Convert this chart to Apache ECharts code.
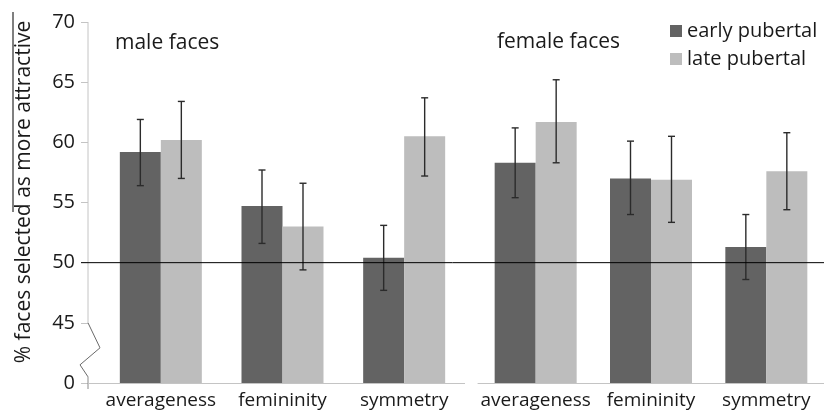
<!DOCTYPE html>
<html>
<head>
<meta charset="utf-8">
<script src="https://cdn.jsdelivr.net/npm/echarts@6/dist/echarts.min.js"></script>
<style>html,body{margin:0;padding:0;background:#fff}#c{width:824px;height:414px}</style>
</head>
<body>
<div id="c"></div>
<script>
// ---- data ----
const categories = ['averageness', 'femininity', 'symmetry'];
const yTicks = [40, 45, 50, 55, 60, 65, 70];          // 40 is shown as "0" (broken axis)
const maleEarly = [59.2, 54.7, 50.4];
const maleLate = [60.2, 53.0, 60.5];
const femaleEarly = [58.3, 57.0, 51.3];
const femaleLate = [61.7, 56.9, 57.6];
const maleEarlyLow = [56.4, 51.6, 47.7];
const maleEarlyHigh = [61.9, 57.7, 53.1];
const maleLateLow = [57.0, 49.4, 57.2];
const maleLateHigh = [63.4, 56.6, 63.7];
const femaleEarlyLow = [55.4, 54.0, 48.6];
const femaleEarlyHigh = [61.2, 60.1, 54.0];
const femaleLateLow = [58.3, 53.35, 54.4];
const femaleLateHigh = [65.2, 60.5, 60.8];
const seriesNames = ['early pubertal', 'late pubertal'];
const panelTitles = ['male faces', 'female faces'];
const yAxisTitle = '% faces selected as more attractive';

// ---- style / layout ----
const FONT = '"Open Sans", "Noto Sans", sans-serif';
const DARK = '#636363', LIGHT = '#bdbdbd', TXT = '#1a1a1a', AXIS = '#c4c4c4';
const BAR_W = 41;
const G0_LEFT = 100, G0_W = 365, G1_LEFT = 478, G1_W = 362;
const Y_OFFSET = 12;
const GRID_TOP = 22, GRID_H = 361;

const chart = echarts.init(document.getElementById('c'), null, {renderer: 'canvas'});

function errData(lo, hi) { return lo.map((v, i) => [i, v, hi[i]]); }
function errRender(sign) {
  return function (params, api) {
    const lo = api.coord([api.value(0), api.value(1)]);
    const hi = api.coord([api.value(0), api.value(2)]);
    const cx = lo[0] + sign * BAR_W / 2;
    const cap = 3.5;
    const st = {stroke: '#2b2b2b', lineWidth: 1.4};
    return {
      type: 'group',
      children: [
        {type: 'line', shape: {x1: cx, y1: lo[1], x2: cx, y2: hi[1]}, style: st},
        {type: 'line', shape: {x1: cx - cap, y1: lo[1], x2: cx + cap, y2: lo[1]}, style: st},
        {type: 'line', shape: {x1: cx - cap, y1: hi[1], x2: cx + cap, y2: hi[1]}, style: st}
      ]
    };
  };
}

function xAxisCfg(gi, showLine) {
  return {
    type: 'category', gridIndex: gi, data: categories,
    axisLine: {show: showLine, lineStyle: {color: AXIS, width: 1}},
    axisTick: {show: false},
    axisLabel: {interval: 0, color: TXT, fontSize: 19, fontFamily: FONT, margin: 8}
  };
}
function yAxisCfg(gi, show) {
  return {
    type: 'value', gridIndex: gi, min: yTicks[0], max: yTicks[yTicks.length - 1], interval: 5,
    offset: Y_OFFSET,
    splitLine: {show: false},
    axisLine: {show: false},
    axisTick: {show: show, length: 7, lineStyle: {color: AXIS}},
    axisLabel: {show: show, color: TXT, fontSize: 20, fontFamily: FONT, margin: 13,
      formatter: v => (v === yTicks[0] ? '0' : String(v))}
  };
}

const option = {
  animation: false,
  backgroundColor: '#fff',
  grid: [
    {left: G0_LEFT, top: GRID_TOP, width: G0_W, height: GRID_H},
    {left: G1_LEFT, top: GRID_TOP, width: G1_W, height: GRID_H}
  ],
  xAxis: [xAxisCfg(0, false), xAxisCfg(1, true)],
  yAxis: [yAxisCfg(0, true), yAxisCfg(1, false)],
  legend: {
    orient: 'vertical', left: 670, top: 21, padding: 0, itemGap: 8,
    itemWidth: 12, itemHeight: 12, icon: 'rect',
    data: seriesNames,
    textStyle: {color: TXT, fontSize: 20, fontFamily: FONT, lineHeight: 20}
  },
  series: [
    {name: seriesNames[0], type: 'bar', xAxisIndex: 0, yAxisIndex: 0, data: maleEarly, barWidth: BAR_W, barGap: '0%', itemStyle: {color: DARK}},
    {name: seriesNames[1], type: 'bar', xAxisIndex: 0, yAxisIndex: 0, data: maleLate, barWidth: BAR_W, barGap: '0%', itemStyle: {color: LIGHT}},
    {name: seriesNames[0], type: 'bar', xAxisIndex: 1, yAxisIndex: 1, data: femaleEarly, barWidth: BAR_W, barGap: '0%', itemStyle: {color: DARK}},
    {name: seriesNames[1], type: 'bar', xAxisIndex: 1, yAxisIndex: 1, data: femaleLate, barWidth: BAR_W, barGap: '0%', itemStyle: {color: LIGHT}},
    {name: 'err0', type: 'custom', xAxisIndex: 0, yAxisIndex: 0, renderItem: errRender(-1), data: errData(maleEarlyLow, maleEarlyHigh), encode: {x: 0, y: [1, 2]}, z: 5},
    {name: 'err1', type: 'custom', xAxisIndex: 0, yAxisIndex: 0, renderItem: errRender(1), data: errData(maleLateLow, maleLateHigh), encode: {x: 0, y: [1, 2]}, z: 5},
    {name: 'err2', type: 'custom', xAxisIndex: 1, yAxisIndex: 1, renderItem: errRender(-1), data: errData(femaleEarlyLow, femaleEarlyHigh), encode: {x: 0, y: [1, 2]}, z: 5},
    {name: 'err3', type: 'custom', xAxisIndex: 1, yAxisIndex: 1, renderItem: errRender(1), data: errData(femaleLateLow, femaleLateHigh), encode: {x: 0, y: [1, 2]}, z: 5}
  ]
};
chart.setOption(option);

// ---- decorations derived from the axis scale ----
const yPx = v => chart.convertToPixel({yAxisIndex: 0}, v);
const axisX = G0_LEFT - Y_OFFSET;
const yTop = yPx(yTicks[yTicks.length - 1]);
const y45 = yPx(yTicks[1]);
const y0 = yPx(yTicks[0]);
const y50 = yPx(50);
chart.setOption({
  graphic: [
    {type: 'line', z: 10, shape: {x1: axisX, y1: yTop, x2: axisX, y2: y45}, style: {stroke: AXIS, lineWidth: 1}},
    {type: 'polyline', z: 10, shape: {points: [[axisX, y45], [axisX + 12, y45 + 25], [axisX - 8, y45 + 42], [axisX, y45 + 54]]}, style: {stroke: '#6a6a6a', lineWidth: 1, fill: null}},
    {type: 'line', z: 10, shape: {x1: axisX, y1: y45 + 54, x2: axisX, y2: y0 + 6}, style: {stroke: '#8a8a8a', lineWidth: 1}},
    {type: 'line', z: 10, shape: {x1: axisX, y1: y0 + 0.5, x2: G0_LEFT + G0_W, y2: y0 + 0.5}, style: {stroke: AXIS, lineWidth: 1}},
    {type: 'line', z: 20, shape: {x1: axisX - 7, y1: y50, x2: 824, y2: y50}, style: {stroke: '#000', lineWidth: 1}},
    {type: 'text', z: 10, left: 115, top: 33, style: {text: panelTitles[0], fontSize: 21, fontFamily: FONT, fill: TXT}},
    {type: 'text', z: 10, left: 497, top: 32, style: {text: panelTitles[1], fontSize: 21, fontFamily: FONT, fill: TXT}},
    {type: 'text', z: 10, x: 24, y: 192, rotation: Math.PI / 2,
      style: {text: yAxisTitle, fontSize: 21, fontFamily: FONT, fill: TXT, align: 'center', verticalAlign: 'middle'}},
    {type: 'line', z: 10, shape: {x1: 13, y1: 12, x2: 13, y2: 212}, style: {stroke: '#000', lineWidth: 1}}
  ]
});
</script>
</body>
</html>
